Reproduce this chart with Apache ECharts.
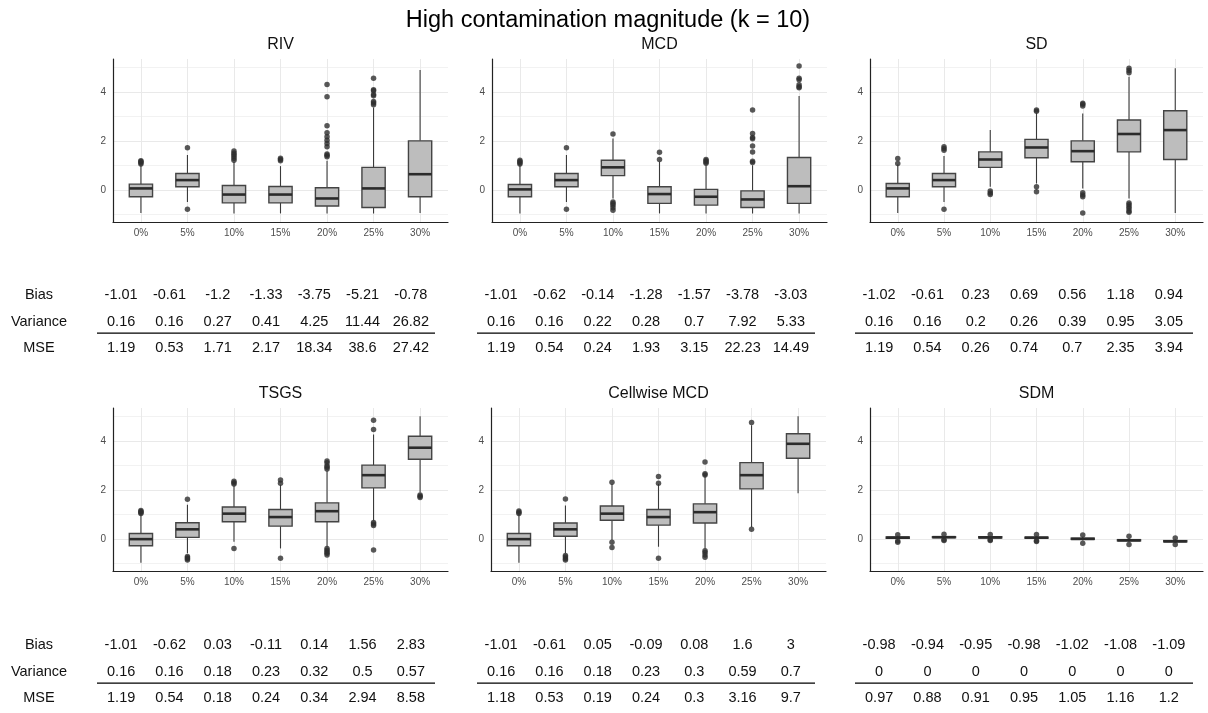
<!DOCTYPE html>
<html><head><meta charset="utf-8">
<script src="https://cdn.jsdelivr.net/npm/echarts@6/dist/echarts.min.js"></script>
<style>html,body{margin:0;padding:0;background:#fff}#chart{width:1208px;height:713px}</style>
</head><body><div id="chart"></div>
<script>
const mainTitle = 'High contamination magnitude (k = 10)';
const categories = ['0%', '5%', '10%', '15%', '20%', '25%', '30%'];
const rowNames = ['MSE', 'Variance', 'Bias'];   // bottom to top
const panelNames = ['RIV', 'MCD', 'SD', 'TSGS', 'Cellwise MCD', 'SDM'];
const yLabelValues = [0, 2, 4];

// each box: [lower whisker, Q1, median, Q3, upper whisker]
const rivBox = [[-0.93,-0.27,0.07,0.245,1.02],[-0.48,0.14,0.41,0.68,1.43],[-0.95,-0.52,-0.18,0.19,1.16],[-0.95,-0.52,-0.18,0.15,0.98],[-0.95,-0.65,-0.34,0.1,1.2],[-0.95,-0.71,0.07,0.93,3.37],[-0.93,-0.27,0.65,2.01,4.9]];
const rivOut = [[1.07,1.12,1.17,1.2],[1.73,-0.78],[1.22,1.3,1.38,1.45,1.52,1.6],[1.2,1.25,1.3],[1.36,1.42,1.47,1.77,1.9,2.04,2.18,2.34,2.63,3.81,4.31],[3.48,3.55,3.62,3.85,3.9,4.05,4.1,4.56],[]];
const mcdBox = [[-0.95,-0.27,0.03,0.23,1.02],[-0.48,0.14,0.41,0.68,1.43],[-0.34,0.59,0.93,1.22,2.11],[-0.95,-0.54,-0.16,0.14,1.16],[-0.95,-0.61,-0.27,0.03,1.02],[-0.95,-0.71,-0.38,-0.03,1.02],[-0.95,-0.54,0.16,1.33,3.84]];
const mcdOut = [[1.07,1.12,1.17,1.22],[1.73,-0.78],[2.29,-0.48,-0.55,-0.62,-0.72,-0.82],[1.25,1.55],[1.1,1.15,1.2,1.25],[1.13,1.18,1.56,1.8,2.1,2.15,2.31,3.27],[4.18,4.22,4.3,4.5,4.56,5.06]];
const sdBox = [[-0.93,-0.27,0.07,0.27,1.05],[-0.48,0.14,0.41,0.68,1.39],[0.14,0.93,1.25,1.56,2.45],[0.27,1.32,1.74,2.07,3.15],[0.07,1.16,1.59,2.01,3.13],[-0.34,1.56,2.29,2.86,4.63],[-0.93,1.25,2.45,3.24,4.97]];
const sdOut = [[1.09,1.29],[1.63,1.7,1.77,-0.78],[-0.04,-0.12,-0.18],[3.22,3.27,0.14,-0.07],[3.43,3.5,3.54,-0.11,-0.2,-0.27,-0.93],[4.79,4.88,4.97,-0.52,-0.6,-0.68,-0.75,-0.85,-0.9],[]];
const tsgsBox = [[-0.96,-0.27,0.0,0.23,1.01],[-0.58,0.07,0.4,0.67,1.4],[-0.11,0.71,1.04,1.31,2.18],[-0.38,0.53,0.9,1.21,2.22],[-0.31,0.71,1.14,1.48,2.79],[0.75,2.09,2.61,3.02,4.27],[1.9,3.26,3.73,4.2,5.01]];
const tsgsOut = [[1.05,1.09,1.13,1.17],[1.63,-0.71,-0.76,-0.8,-0.85],[2.25,2.3,2.36,-0.38],[2.28,2.41,-0.78],[2.86,2.93,2.99,3.12,3.19,-0.38,-0.45,-0.52,-0.58,-0.65],[4.47,4.85,0.68,0.62,0.56,-0.44],[1.8,1.75,1.7]];
const cmcdBox = [[-0.96,-0.27,0.0,0.23,1.01],[-0.58,0.12,0.4,0.66,1.37],[-0.04,0.77,1.04,1.35,2.25],[-0.31,0.57,0.9,1.21,2.25],[-0.38,0.66,1.1,1.44,2.59],[0.5,2.05,2.61,3.12,4.65],[1.87,3.3,3.89,4.3,5.01]];
const cmcdOut = [[1.05,1.1,1.15],[1.64,-0.67,-0.73,-0.8,-0.85],[2.32,-0.13,-0.34],[2.28,2.56,-0.78],[2.62,2.67,3.15,-0.47,-0.55,-0.65,-0.74],[4.76,0.4],[]];
const sdmBox = [[-0.02,0.03,0.06,0.09,0.14],[0.03,0.06,0.08,0.1,0.13],[0.02,0.05,0.07,0.1,0.13],[0.0,0.04,0.06,0.08,0.12],[-0.06,-0.01,0.01,0.04,0.1],[-0.12,-0.07,-0.05,-0.02,0.04],[-0.15,-0.11,-0.09,-0.06,0.0]];
const sdmOut = [[0.18,-0.08,-0.13],[0.2,-0.02,-0.06],[0.19,-0.03,-0.06],[0.19,-0.07,-0.1],[0.17,-0.17],[0.12,-0.22],[0.05,-0.22]];

// tables
const rivBias = [-1.01,-0.61,-1.2,-1.33,-3.75,-5.21,-0.78];
const rivVar = [0.16,0.16,0.27,0.41,4.25,11.44,26.82];
const rivMse = [1.19,0.53,1.71,2.17,18.34,38.6,27.42];
const mcdBias = [-1.01,-0.62,-0.14,-1.28,-1.57,-3.78,-3.03];
const mcdVar = [0.16,0.16,0.22,0.28,0.7,7.92,5.33];
const mcdMse = [1.19,0.54,0.24,1.93,3.15,22.23,14.49];
const sdBias = [-1.02,-0.61,0.23,0.69,0.56,1.18,0.94];
const sdVar = [0.16,0.16,0.2,0.26,0.39,0.95,3.05];
const sdMse = [1.19,0.54,0.26,0.74,0.7,2.35,3.94];
const tsgsBias = [-1.01,-0.62,0.03,-0.11,0.14,1.56,2.83];
const tsgsVar = [0.16,0.16,0.18,0.23,0.32,0.5,0.57];
const tsgsMse = [1.19,0.54,0.18,0.24,0.34,2.94,8.58];
const cmcdBias = [-1.01,-0.61,0.05,-0.09,0.08,1.6,3];
const cmcdVar = [0.16,0.16,0.18,0.23,0.3,0.59,0.7];
const cmcdMse = [1.18,0.53,0.19,0.24,0.3,3.16,9.7];
const sdmBias = [-0.98,-0.94,-0.95,-0.98,-1.02,-1.08,-1.09];
const sdmVar = [0,0,0,0,0,0,0];
const sdmMse = [0.97,0.88,0.91,0.95,1.05,1.16,1.2];

const boxes = [rivBox, mcdBox, sdBox, tsgsBox, cmcdBox, sdmBox];
const outs = [rivOut, mcdOut, sdOut, tsgsOut, cmcdOut, sdmOut];
const biases = [rivBias, mcdBias, sdBias, tsgsBias, cmcdBias, sdmBias];
const vars = [rivVar, mcdVar, sdVar, tsgsVar, cmcdVar, sdmVar];
const mses = [rivMse, mcdMse, sdMse, tsgsMse, cmcdMse, sdmMse];

// ---- layout / style ----
const FONT = "'Liberation Sans', Arial, sans-serif";
const boxLayout = [
  {left: 113, top: 59, width: 335}, {left: 492, top: 59, width: 335}, {left: 870, top: 59, width: 333},
  {left: 113, top: 408, width: 335}, {left: 491, top: 408, width: 335}, {left: 870, top: 408, width: 333}
];
const BOX_H = 163;
const tableLayout = [
  {left: 97, top: 282, width: 338, labels: true}, {left: 477, top: 282, width: 338}, {left: 855, top: 282, width: 338},
  {left: 97, top: 632, width: 338, labels: true}, {left: 477, top: 632, width: 338}, {left: 855, top: 632, width: 338}
];
const TABLE_H = 79.5;
const SEP_Y = 0.57;
const TABLE_FONT = 14.5;

function renderBox(params, api) {
  const x = api.value(0);
  const lo = api.coord([x, api.value(1)]);
  const q1 = api.coord([x, api.value(2)]);
  const md = api.coord([x, api.value(3)]);
  const q3 = api.coord([x, api.value(4)]);
  const hi = api.coord([x, api.value(5)]);
  const hw = api.size([1, 0])[0] * 0.25;
  const cx = lo[0];
  const ws = {stroke: '#3a3a3a', lineWidth: 1.1};
  return {type: 'group', children: [
    {type: 'line', shape: {x1: cx, y1: q3[1], x2: cx, y2: hi[1]}, style: ws},
    {type: 'line', shape: {x1: cx, y1: q1[1], x2: cx, y2: lo[1]}, style: ws},
    {type: 'rect', shape: {x: cx - hw, y: q3[1], width: 2 * hw, height: q1[1] - q3[1]}, style: {fill: '#bdbdbd', stroke: '#444', lineWidth: 1.4}},
    {type: 'line', shape: {x1: cx - hw, y1: md[1], x2: cx + hw, y2: md[1]}, style: {stroke: '#2b2b2b', lineWidth: 2.6}}
  ]};
}

function renderTable(params, api) {
  const p = api.coord([api.value(0), api.value(1)]);
  const children = [{
    type: 'text', x: p[0], y: p[1],
    style: {text: String(api.value(2)), fontSize: TABLE_FONT, fontFamily: FONT, fill: '#111', align: 'center', verticalAlign: 'middle'}
  }];
  if (params.dataIndex === 0) {
    const cs = params.coordSys;
    const yy = api.coord([0, SEP_Y])[1];
    children.push({type: 'line', shape: {x1: cs.x, y1: yy, x2: cs.x + cs.width, y2: yy}, style: {stroke: '#000', lineWidth: 1.3}});
  }
  return {type: 'group', children: children};
}

const grid = [], xAxis = [], yAxis = [], series = [];
const title = [{
  text: mainTitle, left: 608, top: 8.5, textAlign: 'center', padding: 0,
  textStyle: {fontSize: 23.5, fontWeight: 'normal', color: '#000', fontFamily: FONT}
}];

panelNames.forEach(function (name, i) {
  const g = boxLayout[i];
  grid.push({left: g.left, top: g.top, width: g.width, height: BOX_H, outerBoundsMode: 'none'});
  title.push({text: name, left: g.left + g.width / 2, top: g.top - 22, textAlign: 'center', padding: 0,
    textStyle: {fontSize: 16, fontWeight: 'normal', color: '#111', fontFamily: FONT}});
  const gi = grid.length - 1;
  xAxis.push({
    gridIndex: gi, type: 'value', min: -0.6, max: 6.6, splitNumber: 7,
    axisLine: {show: true, onZero: false, lineStyle: {color: '#222', width: 1.2}},
    axisTick: {show: false, customValues: [0, 1, 2, 3, 4, 5, 6]},
    axisLabel: {customValues: [0, 1, 2, 3, 4, 5, 6], margin: 6, fontSize: 10, color: '#4d4d4d', fontFamily: FONT,
      formatter: function (v) { return categories[v] !== undefined ? categories[v] : ''; }},
    splitLine: {show: true, lineStyle: {color: '#e9e9e9', width: 1}}
  });
  yAxis.push({
    gridIndex: gi, type: 'value', min: -1.3, max: 5.35, splitNumber: 3,
    axisLine: {show: true, onZero: false, lineStyle: {color: '#222', width: 1.2}},
    axisTick: {show: false},
    minorTick: {show: false, splitNumber: 2},
    axisLabel: {showMinLabel: false, showMaxLabel: false, margin: 7, fontSize: 10, color: '#4d4d4d', fontFamily: FONT,
      formatter: function (v) { return yLabelValues.indexOf(v) >= 0 ? String(v) : ''; }},
    splitLine: {show: true, showMinLine: false, showMaxLine: false, lineStyle: {color: '#e9e9e9', width: 1}},
    minorSplitLine: {show: true, lineStyle: {color: '#efefef', width: 0.8}}
  });
  series.push({
    type: 'custom', xAxisIndex: gi, yAxisIndex: gi, renderItem: renderBox,
    encode: {x: 0, y: [1, 2, 3, 4, 5]},
    data: boxes[i].map(function (b, k) { return [k].concat(b); })
  });
  const outData = [];
  outs[i].forEach(function (vals, k) { vals.forEach(function (v) { outData.push([k, v]); }); });
  series.push({
    type: 'scatter', xAxisIndex: gi, yAxisIndex: gi, symbol: 'circle', symbolSize: 5.5,
    itemStyle: {color: '#2e2e2e'}, data: outData, z: 3
  });
});

panelNames.forEach(function (name, i) {
  const t = tableLayout[i];
  grid.push({left: t.left, top: t.top, width: t.width, height: TABLE_H, outerBoundsMode: 'none'});
  const gi = grid.length - 1;
  xAxis.push({gridIndex: gi, type: 'value', min: -0.5, max: 6.5, show: false});
  yAxis.push({
    gridIndex: gi, type: 'value', min: -0.5, max: 2.5, show: !!t.labels,
    axisLine: {show: false}, axisTick: {show: false, customValues: [0, 1, 2]}, splitLine: {show: false},
    axisLabel: {customValues: [0, 1, 2], align: 'center', margin: 58, fontSize: TABLE_FONT, color: '#111', fontFamily: FONT,
      formatter: function (v) { return rowNames[v] !== undefined ? rowNames[v] : ''; }}
  });
  const data = [];
  const rows = [[2, biases[i]], [1, vars[i]], [0, mses[i]]];
  rows.forEach(function (r) { r[1].forEach(function (v, k) { data.push([k, r[0], v]); }); });
  series.push({
    type: 'custom', xAxisIndex: gi, yAxisIndex: gi, renderItem: renderTable,
    encode: {x: 0, y: 1}, data: data
  });
});

const chart = echarts.init(document.getElementById('chart'), null, {renderer: 'canvas'});
chart.setOption({
  animation: false,
  backgroundColor: '#fff',
  textStyle: {fontFamily: FONT},
  title: title, grid: grid, xAxis: xAxis, yAxis: yAxis, series: series
});
</script></body></html>
